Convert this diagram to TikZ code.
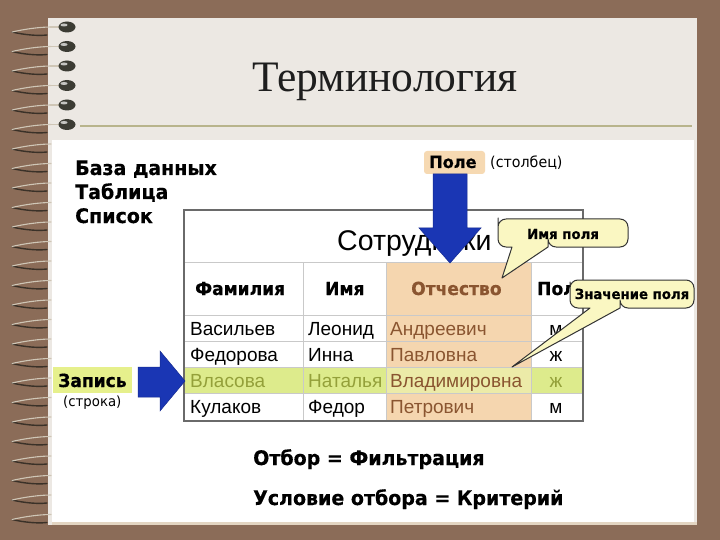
\documentclass[tikz,border=0pt]{standalone}
\usepackage{fontspec}
\setmainfont{Liberation Serif}
\newfontfamily\arialf{Liberation Sans}
\newfontfamily\tahf[FakeStretch=0.95,BoldFeatures={FakeBold=0.4}]{DejaVu Sans}
\definecolor{bgbrown}{HTML}{8B6C58}
\definecolor{pagegrey}{HTML}{ECE8E3}
\definecolor{beigec}{HTML}{E3D5C2}
\definecolor{titlec}{HTML}{1E1E1E}
\definecolor{tline}{HTML}{B8B48C}
\definecolor{orangec}{HTML}{F5D6AF}
\definecolor{greenc}{HTML}{DDEB8C}
\definecolor{crossc}{HTML}{ECEBA8}
\definecolor{gridc}{HTML}{C9C9C9}
\definecolor{borderc}{HTML}{6A6A6A}
\definecolor{brownt}{HTML}{8A5530}
\definecolor{greent}{HTML}{94A03A}
\definecolor{bluec}{HTML}{1A36B4}
\definecolor{callfill}{HTML}{FAF7C2}
\definecolor{zapfill}{HTML}{E6F08C}
\definecolor{polefill}{HTML}{F6D9B2}
\definecolor{wiredark}{HTML}{3A3128}
\definecolor{wirelight}{HTML}{CFC6B6}
\definecolor{blobc}{HTML}{3C3C34}
\begin{document}
\begin{tikzpicture}[x=1pt,y=-1pt,
  bigl/.style={font=\tahf\bfseries\fontsize{20}{24}\selectfont, anchor=base west, inner sep=0pt},
  smalll/.style={font=\tahf\fontsize{15}{18}\selectfont, anchor=base west, inner sep=0pt},
  hdr/.style={font=\tahf\bfseries\fontsize{18}{21}\selectfont, anchor=base west, inner sep=0pt},
  cell/.style={font=\arialf\fontsize{19}{22}\selectfont, anchor=base west, inner sep=0pt},
  cellc/.style={font=\arialf\fontsize{19}{22}\selectfont, anchor=base, inner sep=0pt},
  calltext/.style={font=\tahf\bfseries\fontsize{14}{17}\selectfont, anchor=base, inner sep=0pt},
  callout/.style={fill=callfill, draw=black!80, line width=1pt, line join=round},
  arrowfill/.style={fill=bluec, draw=bluec!80!black, line width=0.5pt},
  wd/.style={draw=wiredark, line width=1.4pt, line cap=round},
  wl/.style={draw=wirelight, line width=1.1pt, line cap=round}]
\useasboundingbox (0,0) rectangle (720,540);
% background and page
\fill[bgbrown] (0,0) rectangle (720,540);
\fill[pagegrey] (48,18) rectangle (697,525);
\fill[white] (52,140) rectangle (694,522);
\fill[beigec] (52,522) rectangle (697,525);
% title
\node[font=\fontsize{43.5}{50}\selectfont, text=titlec, anchor=base, inner sep=0pt] (title) at (385,92) {Терминология};
\coordinate (tl1) at (80,126);
\coordinate (tl2) at (692,126);
\draw[tline, line width=1.2pt] (tl1) -- (tl2);
% spiral rings
\foreach \k in {0,...,25}{
  \pgfmathsetmacro{\yy}{27+19.5*\k}
  \draw[wd] (12,\yy+5) .. controls (25,\yy+8) and (38,\yy+9) .. (47,\yy+8);
  \draw[wl] (12,\yy+5) .. controls (25,\yy+2) and (40,\yy) .. (51,\yy);
}
\foreach \k in {0,...,5}{
  \pgfmathsetmacro{\yy}{27+19.5*\k}
  \draw[wl] (50,\yy) -- (60,\yy);
  \fill[blobc] (67,\yy) ellipse [x radius=8.5, y radius=5.5];
  \fill[white!70!blobc] (64,\yy-2) ellipse [x radius=3.5, y radius=1.5];
}
% left labels
\node[bigl] (bd) at (75,175) {База данных};
\node[bigl] (tab) at (75,199) {Таблица};
\node[bigl] (spis) at (75,223) {Список};
% table fills
\fill[orangec] (386,262) rectangle (531,420);
\fill[greenc] (184,367) rectangle (583,393);
\fill[crossc] (386,367) rectangle (531,393);
% grid
\foreach \yy in {262,315,341,367,393}{\draw[gridc, line width=1pt] (184,\yy) -- (583,\yy);}
\foreach \xx in {303,386,531}{\draw[gridc, line width=1pt] (\xx,262) -- (\xx,420);}
\draw[borderc, line width=1.6pt] (184,210) rectangle (583,421);
% table title
\node[font=\arialf\fontsize{28.5}{32}\selectfont, anchor=base west, inner sep=0pt] (ttitle) at (337,251) {Сотрудники};
% headers
\node[hdr] (h1) at (195,295) {Фамилия};
\node[hdr] (h2) at (325,295) {Имя};
\node[hdr, text=brownt] (h3) at (411,295) {Отчество};
\node[hdr] (h4) at (537,295) {Пол};
% rows
\node[cell] (r1a) at (190,335) {Васильев};
\node[cell] (r1b) at (308,335) {Леонид};
\node[cell, text=brownt] (r1c) at (390,335) {Андреевич};
\node[cellc] (r1d) at (556,335) {м};
\node[cell] (r2a) at (190,361) {Федорова};
\node[cell] (r2b) at (308,361) {Инна};
\node[cell, text=brownt] (r2c) at (390,361) {Павловна};
\node[cellc] (r2d) at (556,361) {ж};
\node[cell, text=greent] (r3a) at (190,387) {Власова};
\node[cell, text=greent] (r3b) at (308,387) {Наталья};
\node[cell, text=brownt] (r3c) at (390,387) {Владимировна};
\node[cellc, text=greent] (r3d) at (556,387) {ж};
\node[cell] (r4a) at (190,413) {Кулаков};
\node[cell] (r4b) at (308,413) {Федор};
\node[cell, text=brownt] (r4c) at (390,413) {Петрович};
\node[cellc] (r4d) at (556,413) {м};
% Pole label
\fill[polefill, rounded corners=3pt] (424,151) rectangle (485,174);
\node[font=\tahf\bfseries\fontsize{17}{20}\selectfont, anchor=base west, inner sep=0pt] (pole) at (429,168) {Поле};
\node[smalll] (stolb) at (490,168) {(столбец)};
% down arrow
\path[arrowfill] (433,174) -- (467,174) -- (467,228) -- (481,228) -- (450,263) -- (419,228) -- (433,228) -- cycle;
% Zapis label
\fill[zapfill] (53,367) rectangle (132,393);
\node[bigl, font=\tahf\bfseries\fontsize{18}{22}\selectfont] (zap) at (58,387) {Запись};
\node[smalll, font=\tahf\fontsize{14}{17}\selectfont] (str) at (63,406) {(строка)};
% right arrow
\path[arrowfill] (138,367) -- (160,367) -- (160,351) -- (185,381) -- (160,411) -- (160,397) -- (138,397) -- cycle;
% callout 1
\draw[callout] (498,226) [rounded corners=8pt] -- (498,219) -- (628,219) -- (628,247) -- (548,247) [sharp corners] -- (548,247) -- (502,278) -- (512,247) [rounded corners=8pt] -- (498,247) -- cycle;
\node[calltext] (imp) at (563,239) {Имя поля};
% callout 2
\draw[callout] (570,290) [rounded corners=8pt] -- (570,280) -- (694,280) -- (694,308) -- (620,308) [sharp corners] -- (620,308) -- (512,367) -- (590,308) [rounded corners=8pt] -- (570,308) -- cycle;
\node[calltext] (znp) at (632,299) {Значение поля};
% bottom
\node[bigl] (otb) at (253,465) {Отбор = Фильтрация};
\node[bigl] (usl) at (253,505) {Условие отбора = Критерий};
\end{tikzpicture}
\end{document}
